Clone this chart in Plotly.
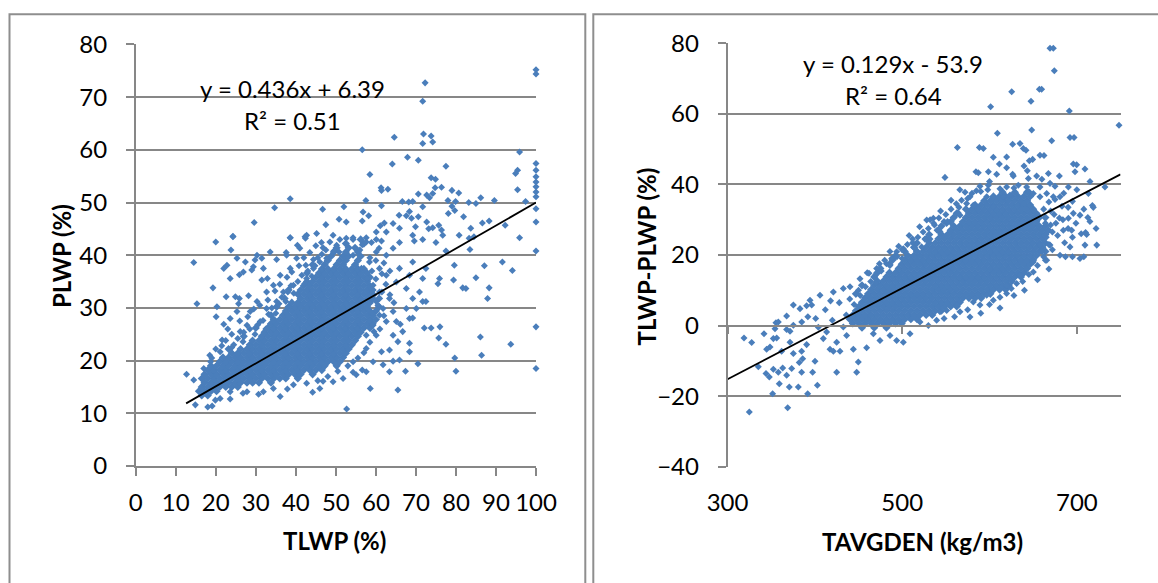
import plotly.graph_objects as go

# ---------------- left panel: PLWP vs TLWP ----------------
# dense part of the cloud, stored row by row as (PLWP, [TLWP values])
LEFT_CORE_ROWS = [
    (13.4, [16.5, 18.0]),
    (14.2, [15.8, 17.2, 18.8, 20.2]),
    (15.0, [16.5, 18.0, 19.5, 21.0, 22.5, 24.0, 25.5]),
    (15.8, [17.2, 18.8, 20.2, 21.8, 23.2, 24.8, 26.2, 27.8, 29.2, 30.8, 33.8]),
    (16.6, [16.5, 18.0, 19.5, 21.0, 22.5, 24.0, 25.5, 27.0, 28.5, 30.0, 31.5, 33.0, 34.5, 36.0, 37.5, 40.5]),
    (17.4, [17.2, 18.8, 20.2, 21.8, 23.2, 24.8, 26.2, 27.8, 29.2, 30.8, 32.2, 33.8, 35.2, 36.8, 38.2, 39.8, 41.2, 44.2]),
    (18.2, [18.0, 19.5, 21.0, 22.5, 24.0, 25.5, 27.0, 28.5, 30.0, 31.5, 33.0, 34.5, 36.0, 37.5, 39.0, 40.5, 42.0, 43.5, 45.0, 46.5]),
    (19.0, [18.8, 20.2, 21.8, 23.2, 24.8, 26.2, 27.8, 29.2, 30.8, 32.2, 33.8, 35.2, 36.8, 38.2, 39.8, 41.2, 42.8, 44.2, 45.8, 47.2, 50.2]),
    (19.8, [21.0, 22.5, 24.0, 25.5, 27.0, 28.5, 30.0, 31.5, 33.0, 34.5, 36.0, 37.5, 39.0, 40.5, 42.0, 43.5, 45.0, 46.5, 48.0, 49.5, 51.0]),
    (20.6, [21.8, 23.2, 24.8, 26.2, 27.8, 29.2, 30.8, 32.2, 33.8, 35.2, 36.8, 38.2, 39.8, 41.2, 42.8, 44.2, 45.8, 47.2, 48.8, 50.2, 51.8]),
    (21.4, [24.0, 25.5, 27.0, 28.5, 30.0, 31.5, 33.0, 34.5, 36.0, 37.5, 39.0, 40.5, 42.0, 43.5, 45.0, 46.5, 48.0, 49.5, 51.0, 52.5]),
    (22.2, [23.2, 26.2, 27.8, 29.2, 30.8, 32.2, 33.8, 35.2, 36.8, 38.2, 39.8, 41.2, 42.8, 44.2, 45.8, 47.2, 48.8, 50.2, 51.8, 53.2]),
    (23.0, [28.5, 30.0, 31.5, 33.0, 34.5, 36.0, 37.5, 39.0, 40.5, 42.0, 43.5, 45.0, 46.5, 48.0, 49.5, 51.0, 52.5, 54.0]),
    (23.8, [29.2, 30.8, 32.2, 33.8, 35.2, 36.8, 38.2, 39.8, 41.2, 42.8, 44.2, 45.8, 47.2, 48.8, 50.2, 51.8, 53.2, 54.8]),
    (24.6, [27.0, 31.5, 33.0, 34.5, 36.0, 37.5, 39.0, 40.5, 42.0, 43.5, 45.0, 46.5, 48.0, 49.5, 51.0, 52.5, 54.0, 55.5]),
    (25.4, [32.2, 33.8, 35.2, 36.8, 38.2, 39.8, 41.2, 42.8, 44.2, 45.8, 47.2, 48.8, 50.2, 51.8, 53.2, 54.8, 56.2]),
    (26.2, [30.0, 33.0, 34.5, 36.0, 37.5, 39.0, 40.5, 42.0, 43.5, 45.0, 46.5, 48.0, 49.5, 51.0, 52.5, 54.0, 55.5, 57.0, 58.5]),
    (27.0, [33.8, 35.2, 36.8, 38.2, 39.8, 41.2, 42.8, 44.2, 45.8, 47.2, 48.8, 50.2, 51.8, 53.2, 54.8, 56.2, 57.8, 59.2]),
    (27.8, [34.5, 36.0, 37.5, 39.0, 40.5, 42.0, 43.5, 45.0, 46.5, 48.0, 49.5, 51.0, 52.5, 54.0, 55.5, 57.0, 58.5, 60.0]),
    (28.6, [33.8, 36.8, 38.2, 39.8, 41.2, 42.8, 44.2, 45.8, 47.2, 48.8, 50.2, 51.8, 53.2, 54.8, 56.2, 57.8, 59.2]),
    (29.4, [37.5, 39.0, 40.5, 42.0, 43.5, 45.0, 46.5, 48.0, 49.5, 51.0, 52.5, 54.0, 55.5, 57.0, 58.5, 60.0]),
    (30.2, [35.2, 38.2, 39.8, 41.2, 42.8, 44.2, 45.8, 47.2, 48.8, 50.2, 51.8, 53.2, 54.8, 56.2, 57.8, 60.8]),
    (31.0, [39.0, 40.5, 42.0, 43.5, 45.0, 46.5, 48.0, 49.5, 51.0, 52.5, 54.0, 55.5, 57.0, 58.5]),
    (31.8, [37.2, 41.2, 42.8, 44.2, 45.8, 47.2, 48.8, 50.2, 51.8, 53.2, 54.8, 56.2, 57.8, 59.2, 60.8]),
    (32.6, [40.5, 42.0, 43.5, 45.0, 46.5, 48.0, 49.5, 51.0, 52.5, 54.0, 55.5, 57.0, 58.5]),
    (33.4, [38.2, 41.2, 42.8, 44.2, 45.8, 47.2, 48.8, 50.2, 51.8, 53.2, 54.8, 56.2, 57.8, 59.2]),
    (34.2, [42.0, 43.5, 45.0, 46.5, 48.0, 49.5, 51.0, 52.5, 54.0, 55.5, 57.0, 58.5]),
    (35.0, [42.8, 44.2, 45.8, 47.2, 48.8, 50.2, 51.8, 53.2, 54.8, 56.2, 57.8]),
    (35.8, [45.0, 46.5, 48.0, 49.5, 51.0, 52.5, 54.0, 55.5, 57.0, 58.5]),
    (36.6, [42.8, 45.8, 47.2, 48.8, 50.2, 51.8, 53.2, 54.8, 56.2, 57.8]),
    (37.4, [46.5, 48.0, 49.5, 51.0, 52.5, 54.0, 55.5, 57.0]),
    (38.2, [44.2, 47.2, 50.2, 51.8, 54.8]),
    (39.0, [48.0, 51.0, 52.5, 55.5]),
    (39.8, [48.8, 51.8, 53.2, 56.2]),
    (40.6, [49.5, 52.5, 55.5]),
    (41.4, [50.2, 53.2, 54.8]),
    (42.2, [52.5, 57.0]),
    (43.0, [56.2]),
]

# remaining individual observations (TLWP, PLWP)
LEFT_POINTS = [
    (100, 75.2), (100, 74.4), (72.3, 72.7), (71.7, 69.2), (71.9, 63.0), (73.8, 62.6), (71.7, 61.2),
    (74.2, 61.5), (64.6, 62.4), (56.6, 60.0), (67.9, 58.6), (64.1, 57.3), (70.6, 58.0), (77.5, 56.9),
    (95.9, 59.6), (95.4, 56.1), (94.9, 55.5), (58.5, 55.3), (73.8, 54.7), (74.9, 54.4),
    (100, 57.4), (100, 56.1), (100, 54.9), (100, 53.9), (100, 53.0), (100, 52.0), (100, 51.1),
    (100, 48.8), (100, 46.3), (100, 40.8), (100, 26.4), (100, 18.5),
    (95.4, 52.4), (61.3, 52.8), (61.4, 52.3), (63.0, 52.5), (74.8, 52.8), (76.4, 52.9), (70.6, 51.6),
    (72.7, 51.4), (73.4, 50.9), (74.2, 51.7), (79.0, 52.3), (80.7, 51.8),
    (38.6, 50.7), (34.7, 49.0), (29.6, 46.2), (24.3, 43.6), (46.7, 48.7), (52.0, 49.2), (57.5, 50.4),
    (61.4, 49.4), (66.6, 50.2), (68.2, 50.1), (69.2, 50.2), (78.0, 50.4), (79.9, 50.2), (83.2, 50.0),
    (85.0, 49.8), (86.2, 50.9), (89.6, 50.4), (97.4, 50.2),
    (50.8, 46.8), (52.6, 46.3), (47.5, 45.8), (45.2, 44.1), (42.3, 43.5), (38.6, 43.3), (56.8, 48.2),
    (58.2, 47.5), (56.6, 46.5), (61.1, 45.6), (62.1, 46.1), (64.3, 46.0), (65.8, 47.6), (67.6, 47.5),
    (68.4, 48.3), (68.9, 47.0), (69.9, 45.4), (70.6, 47.3), (71.7, 49.2), (72.7, 46.3), (73.2, 45.0),
    (74.2, 45.2), (76.4, 44.8), (78.1, 47.9), (79.0, 49.3), (79.7, 48.5), (81.9, 47.3), (83.7, 45.1),
    (86.6, 46.1), (88.3, 46.5), (92.3, 45.7), (84.5, 43.5),
    (54.3, 43.3), (57.6, 43.3), (60.1, 44.4), (62.6, 44.4), (65.9, 45.1), (69.2, 43.8), (75.7, 45.7),
    (76.7, 43.8), (80.8, 43.8), (83.3, 43.2), (42.7, 43.8), (49.3, 43.8),
    (14.5, 38.6), (15.3, 30.8), (12.7, 17.4), (14.5, 16.3), (19.3, 33.8), (20.0, 42.5), (24.3, 43.5),
    (23.8, 41.0), (22.0, 37.5), (22.8, 38.1), (23.6, 35.6), (20.1, 28.3), (20.3, 30.2), (22.6, 32.1),
    (24.9, 32.1), (25.9, 31.8), (25.7, 30.8), (22.0, 26.9), (21.6, 23.9), (24.0, 25.0),
    (27.4, 38.7), (29.0, 37.2), (25.9, 36.3), (28.2, 32.3), (31.5, 39.4), (31.5, 35.3), (32.9, 35.6),
    (29.8, 39.1), (29.4, 37.8), (35.2, 39.2), (37.6, 40.5), (38.6, 43.3), (40.4, 41.9), (42.4, 43.2),
    (42.5, 38.1), (44.4, 39.2), (46.4, 42.4), (46.8, 41.4), (47.7, 39.4),
    (50.8, 40.6), (54.3, 43.0), (56.6, 42.0), (58.9, 42.4), (60.1, 43.0), (60.8, 41.3), (61.4, 42.7),
    (65.9, 42.4), (69.6, 42.7), (71.7, 43.0), (75.0, 42.4), (77.5, 40.8), (79.6, 38.1), (83.5, 41.1),
    (85.0, 35.7), (87.1, 38.0), (88.3, 33.8), (87.9, 31.8), (91.6, 38.7), (94.1, 37.1), (95.9, 43.3),
    (75.9, 35.6), (75.5, 34.6), (79.4, 35.3), (81.7, 33.8), (82.5, 33.7),
    (72.1, 26.2), (73.8, 26.2), (76.0, 26.4), (75.7, 24.3), (77.5, 23.1), (86.1, 24.5), (93.7, 23.1),
    (86.4, 21.0), (79.7, 20.5), (80.0, 18.0), (70.5, 19.4), (67.4, 18.0), (63.4, 17.9), (65.5, 14.4),
    (58.6, 14.7), (64.3, 19.9), (65.9, 20.1), (68.4, 23.3), (68.4, 21.7), (61.4, 21.7), (61.8, 19.2),
    (63.4, 22.0), (65.5, 23.6), (64.3, 24.8), (66.1, 26.9), (69.2, 28.1), (72.5, 31.2),
    (52.7, 10.8), (56.6, 18.2), (54.3, 17.8), (46.8, 16.1), (44.2, 14.0), (37.9, 14.6), (36.1, 13.2),
    (30.7, 13.6), (26.8, 13.8), (23.6, 12.7), (19.1, 11.4), (14.9, 11.6), (19.9, 12.5), (18.0, 11.2),
    (25.3, 39.4), (26.9, 36.8), (30.3, 40.0), (31.9, 37.5), (33.6, 40.6), (36.1, 36.2), (37.7, 40.0),
    (38.6, 37.5), (40.2, 39.4), (41.0, 41.3), (34.4, 34.3), (32.7, 33.0), (30.3, 31.2), (28.6, 29.3),
    (31.1, 27.4), (27.8, 26.7), (26.1, 25.5), (24.5, 23.0), (23.6, 28.0), (25.3, 29.3), (32.7, 29.9),
    (35.2, 31.2), (36.9, 33.0), (39.4, 34.3), (42.7, 35.6), (44.4, 37.5), (46.0, 38.7), (21.1, 21.7),
    (18.7, 19.8), (17.0, 18.5),
    (54.3, 19.8), (57.6, 22.3), (60.1, 24.8), (62.6, 27.4), (64.3, 29.3), (61.8, 29.9), (63.4, 31.8),
    (60.9, 33.0), (62.6, 36.2), (65.1, 34.9), (67.6, 33.7), (69.2, 31.8), (70.9, 33.0), (65.9, 37.5),
    (69.2, 38.7), (68.4, 36.2), (71.7, 35.6), (72.5, 37.5), (70.1, 29.9), (71.7, 31.2), (67.6, 29.9),
    (65.1, 27.4), (66.7, 25.5), (68.4, 28.0), (59.3, 19.8), (57.6, 17.9), (55.1, 17.3), (51.8, 16.6),
    (49.3, 16.0), (46.0, 14.7), (42.7, 15.7), (39.4, 15.4), (34.4, 14.7), (31.9, 14.1), (27.8, 14.1),
    (23.6, 14.1), (21.1, 12.8), (17.8, 14.1), (57.6, 24.8), (59.3, 26.7), (60.9, 28.6), (60.1, 31.2),
    (59.3, 34.3), (60.9, 37.5), (58.4, 38.7), (60.1, 40.6), (62.6, 40.0), (64.3, 41.3), (57.6, 42.5),
    (52.6, 43.2), (50.2, 41.9), (54.3, 40.0), (56.4, 37.5), (57.6, 35.6), (56.0, 41.0),
    (59.0, 29.0), (60.5, 30.5), (59.5, 32.5), (61.5, 33.0), (60.0, 35.5), (61.5, 36.5), (59.0, 37.0),
    (58.5, 39.5), (60.0, 39.0), (62.0, 38.5), (63.5, 37.0), (62.5, 34.5), (63.5, 32.5), (64.5, 31.0),
    (62.0, 28.5), (61.0, 26.0), (59.5, 25.5), (58.5, 23.5), (57.0, 21.5), (55.5, 20.5), (53.0, 19.0),
    (50.5, 18.0), (48.0, 17.0), (45.5, 16.2),
    (18.5, 21.0), (20.0, 22.2), (19.0, 20.5), (21.5, 22.8), (22.5, 23.8), (24.0, 22.5), (25.5, 24.2),
    (26.8, 23.6), (27.0, 25.4), (28.5, 26.0), (29.8, 25.0), (30.5, 26.8), (31.8, 27.6), (32.5, 26.0),
    (33.2, 28.8), (34.0, 30.0), (35.0, 29.0), (35.8, 30.8), (36.5, 32.0), (37.5, 31.2), (38.0, 33.0),
    (38.8, 34.2), (39.5, 32.8), (40.5, 35.0), (41.5, 36.2), (42.2, 34.6), (43.0, 37.0), (44.0, 36.0),
    (44.8, 38.0), (45.5, 39.5), (46.5, 40.2), (47.5, 41.0), (48.5, 42.5), (49.5, 40.8), (51.0, 43.0),
    (23.0, 26.0), (26.0, 27.5), (28.0, 28.3), (29.5, 29.8), (31.0, 30.5), (33.0, 31.5), (34.8, 33.2),
    (36.0, 34.5), (37.8, 35.8), (39.0, 36.8), (40.8, 38.0), (42.0, 39.5), (43.5, 40.5), (45.0, 41.8),
]

LEFT_SLOPE, LEFT_INTERCEPT, LEFT_R2 = 0.436, 6.39, 0.51
LEFT_FIT_RANGE = [12.6, 100]

# ---------------- right panel: TLWP-PLWP vs TAVGDEN ----------------
RIGHT_CORE_ROWS = [
    (-0.6, [454, 468, 482]),
    (0.6, [443.5, 450.5, 457.5, 464.5, 471.5, 478.5, 485.5, 492.5, 499.5]),
    (1.8, [440, 447, 454, 461, 468, 475, 482, 489, 496, 503, 510, 517]),
    (3.0, [443.5, 450.5, 457.5, 464.5, 471.5, 478.5, 485.5, 492.5, 499.5, 506.5, 513.5, 520.5, 527.5, 534.5]),
    (4.2, [447, 454, 461, 468, 475, 482, 489, 496, 503, 510, 517, 524, 531, 538, 545]),
    (5.4, [450.5, 457.5, 464.5, 471.5, 478.5, 485.5, 492.5, 499.5, 506.5, 513.5, 520.5, 527.5, 534.5, 541.5,
           548.5, 555.5, 562.5]),
    (6.6, [454, 461, 468, 475, 482, 489, 496, 503, 510, 517, 524, 531, 538, 545, 552, 559, 566]),
    (7.8, [457.5, 464.5, 471.5, 478.5, 485.5, 492.5, 499.5, 506.5, 513.5, 520.5, 527.5, 534.5, 541.5, 548.5,
           555.5, 562.5, 569.5, 576.5, 583.5, 590.5]),
    (9.0, [447, 461, 468, 475, 482, 489, 496, 503, 510, 517, 524, 531, 538, 545, 552, 559, 566, 573, 580, 587,
           594, 601]),
    (10.2, [464.5, 471.5, 478.5, 485.5, 492.5, 499.5, 506.5, 513.5, 520.5, 527.5, 534.5, 541.5, 548.5, 555.5,
            562.5, 569.5, 576.5, 583.5, 590.5, 597.5, 604.5, 611.5, 618.5]),
    (11.4, [454, 468, 475, 482, 489, 496, 503, 510, 517, 524, 531, 538, 545, 552, 559, 566, 573, 580, 587, 594,
            601, 608, 615, 622]),
    (12.6, [471.5, 478.5, 485.5, 492.5, 499.5, 506.5, 513.5, 520.5, 527.5, 534.5, 541.5, 548.5, 555.5, 562.5,
            569.5, 576.5, 583.5, 590.5, 597.5, 604.5, 611.5, 618.5, 625.5]),
    (13.8, [468, 482, 489, 496, 503, 510, 517, 524, 531, 538, 545, 552, 559, 566, 573, 580, 587, 594, 601, 608,
            615, 622, 629, 636]),
    (15.0, [471.5, 485.5, 492.5, 499.5, 506.5, 513.5, 520.5, 527.5, 534.5, 541.5, 548.5, 555.5, 562.5, 569.5,
            576.5, 583.5, 590.5, 597.5, 604.5, 611.5, 618.5, 625.5, 632.5, 639.5]),
    (16.2, [475, 496, 503, 510, 517, 524, 531, 538, 545, 552, 559, 566, 573, 580, 587, 594, 601, 608, 615, 622,
            629, 636, 643]),
    (17.4, [485.5, 499.5, 506.5, 513.5, 520.5, 527.5, 534.5, 541.5, 548.5, 555.5, 562.5, 569.5, 576.5, 583.5,
            590.5, 597.5, 604.5, 611.5, 618.5, 625.5, 632.5, 639.5, 646.5]),
    (18.6, [489, 503, 510, 517, 524, 531, 538, 545, 552, 559, 566, 573, 580, 587, 594, 601, 608, 615, 622, 629,
            636, 643, 650]),
    (19.8, [492.5, 506.5, 513.5, 520.5, 527.5, 534.5, 541.5, 548.5, 555.5, 562.5, 569.5, 576.5, 583.5, 590.5,
            597.5, 604.5, 611.5, 618.5, 625.5, 632.5, 639.5, 646.5, 653.5]),
    (21.0, [503, 517, 524, 531, 538, 545, 552, 559, 566, 573, 580, 587, 594, 601, 608, 615, 622, 629, 636, 643,
            650, 657, 664]),
    (22.2, [513.5, 527.5, 534.5, 541.5, 548.5, 555.5, 562.5, 569.5, 576.5, 583.5, 590.5, 597.5, 604.5, 611.5,
            618.5, 625.5, 632.5, 639.5, 646.5, 653.5, 660.5]),
    (23.4, [517, 531, 538, 545, 552, 559, 566, 573, 580, 587, 594, 601, 608, 615, 622, 629, 636, 643, 650, 657,
            664]),
    (24.6, [527.5, 541.5, 548.5, 555.5, 562.5, 569.5, 576.5, 583.5, 590.5, 597.5, 604.5, 611.5, 618.5, 625.5,
            632.5, 639.5, 646.5, 653.5, 660.5]),
    (25.8, [531, 545, 552, 559, 566, 573, 580, 587, 594, 601, 608, 615, 622, 629, 636, 643, 650, 657, 664]),
    (27.0, [541.5, 555.5, 562.5, 569.5, 576.5, 583.5, 590.5, 597.5, 604.5, 611.5, 618.5, 625.5, 632.5, 639.5,
            646.5, 653.5, 660.5, 667.5]),
    (28.2, [545, 559, 566, 573, 580, 587, 594, 601, 608, 615, 622, 629, 636, 643, 650, 657, 664]),
    (29.4, [555.5, 569.5, 576.5, 583.5, 590.5, 597.5, 604.5, 611.5, 618.5, 625.5, 632.5, 639.5, 646.5, 653.5]),
    (30.6, [559, 573, 580, 587, 594, 601, 608, 615, 622, 629, 636, 643, 650, 657, 664]),
    (31.8, [562.5, 576.5, 583.5, 590.5, 597.5, 604.5, 611.5, 618.5, 625.5, 632.5, 639.5, 646.5, 653.5]),
    (33.0, [573, 580, 587, 594, 601, 608, 615, 622, 629, 636, 643, 650]),
    (34.2, [583.5, 590.5, 597.5, 604.5, 611.5, 618.5, 625.5, 632.5, 639.5, 646.5]),
    (35.4, [594, 601, 608, 615, 622, 629, 636, 643]),
    (36.6, [604.5, 611.5, 618.5, 625.5, 632.5, 639.5, 646.5]),
    (37.8, [615, 629, 643]),
]

# remaining individual observations (TAVGDEN, TLWP-PLWP)
RIGHT_POINTS = [
    (669.3, 78.6), (673.1, 78.6), (674.2, 72.2), (625.4, 66.3), (657.1, 67.0), (659.7, 67.0), (647.5, 63.6),
    (601.3, 62.0), (691.4, 60.8), (748.3, 56.8), (609.0, 54.5), (648.3, 55.4), (671.2, 52.4), (692.2, 53.3),
    (696.8, 53.3), (563.2, 50.5), (588.4, 50.5), (593.0, 50.2), (626.5, 51.4), (634.9, 51.6), (638.7, 50.2),
    (641.8, 49.7), (604.4, 47.7), (619.6, 47.8), (649.4, 47.1), (657.8, 48.3), (662.4, 48.2), (611.3, 45.8),
    (619.6, 44.7), (639.5, 45.2), (645.6, 46.7), (696.0, 45.8), (699.8, 45.6), (709.3, 44.4), (549.0, 42.0),
    (584.5, 43.6), (587.2, 43.3), (598.7, 43.6), (608.2, 42.9), (626.5, 42.9), (627.3, 42.4), (643.3, 43.9),
    (644.5, 41.7), (654.0, 42.4), (667.4, 43.1), (680.0, 42.4), (697.9, 43.6), (715.1, 40.8), (732.2, 39.3),
    (589.1, 39.5), (598.7, 39.8), (619.6, 39.3), (633.0, 39.8), (642.5, 39.3), (657.8, 39.3), (669.3, 40.3),
    (690.3, 39.3), (718.9, 33.5), (696.0, 31.8), (703.6, 31.3), (690.3, 30.4), (680.7, 36.5), (673.1, 36.5),
    (713.2, 37.4), (577.7, 36.5), (573.8, 34.6), (581.5, 34.1), (596.8, 36.5), (604.4, 33.7), (615.8, 36.5),
    (623.5, 37.0), (638.7, 34.6), (650.2, 37.4), (657.8, 36.5), (665.5, 37.4), (675.0, 35.7), (528.1, 29.9),
    (535.7, 30.4), (550.9, 28.9), (566.2, 31.3),
    (565.0, 33.5), (572.0, 37.8), (585.0, 38.2), (600.0, 40.8), (612.0, 38.8), (628.0, 39.0), (645.0, 38.0),
    (660.0, 41.5), (675.0, 39.5), (685.0, 37.5), (695.0, 35.2), (700.0, 38.5), (708.0, 33.0), (715.0, 29.5),
    (722.0, 27.5), (705.0, 26.0), (690.0, 33.5), (680.0, 30.5), (670.0, 32.5), (664.0, 29.0),
    (665.0, 25.0), (670.0, 28.5), (672.0, 21.5), (678.0, 25.5), (684.0, 30.0), (686.0, 23.5), (690.0, 27.5),
    (695.0, 25.0), (662.0, 33.0), (668.0, 35.0), (655.0, 31.5), (660.0, 21.0), (664.0, 18.5), (674.0, 31.5),
    (683.0, 33.8), (699.0, 29.0), (710.0, 26.4), (722.8, 22.8), (708.0, 19.5), (717.8, 34.0), (712.6, 30.6),
    (687.0, 19.5), (695.0, 19.5),
    (325.0, -24.5), (368.9, -23.3), (318.9, -3.5), (327.7, -4.8), (341.8, -2.3), (355.5, 0.8), (358.2, 1.0),
    (352.5, -3.7), (356.3, -3.5), (348.7, -6.1), (344.8, -6.7), (362.0, -7.3), (335.3, -11.7), (344.1, -13.6),
    (347.9, -14.6), (352.5, -12.4), (358.2, -13.2), (363.2, -12.0), (351.7, -19.3), (359.3, -16.5),
    (370.8, -17.4), (367.7, -14.1), (373.5, -12.2), (375.4, -7.9), (384.9, -7.3), (386.1, -9.4),
    (382.2, -10.5), (384.9, -13.2), (381.1, -17.4), (391.8, -19.3), (402.9, -16.9), (400.2, -10.1),
    (397.5, -13.2), (390.6, -5.4), (371.6, -1.6), (367.7, -1.1), (375.4, 0.1), (354.4, -0.9), (371.6, -4.7),
    (367.7, 2.7), (375.4, 5.8), (383.0, 4.8), (390.6, 5.6), (396.4, 5.8), (409.7, -3.7), (417.4, -6.7),
    (421.2, -7.3), (425.0, -4.7), (428.8, -7.3), (425.0, -13.2), (444.1, -6.7), (447.9, -13.2), (449.8, -10.3),
    (459.3, -6.3), (474.6, -4.2), (467.0, -2.3), (486.1, -2.8), (493.7, -4.2), (501.3, -4.7), (509.0, -2.3),
    (436.4, -2.8), (432.6, -0.4), (413.5, -1.8),
    (405.9, 8.6), (394.5, 7.2), (421.2, 9.5), (432.6, 10.5), (440.3, 11.0), (451.7, 13.3), (470.8, 16.2),
    (493.7, 20.9), (501.3, 21.8), (522.3, 22.3), (531.9, 24.5), (543.3, 26.6), (480.0, 18.5), (460.0, 15.0),
    (512.0, 23.5), (537.0, 28.5), (548.0, 29.5),
    (401.0, 2.0), (412.0, 4.5), (420.0, 1.5), (428.0, 6.5), (436.0, 3.0), (404.0, -0.5), (385.0, 1.0),
    (392.0, 2.5), (418.0, 7.0), (440.0, 7.5),
    (520.4, 1.0), (539.5, 1.5), (551.0, 4.3), (566.2, 3.9), (577.7, 2.4), (589.1, 5.8), (604.4, 7.2),
    (619.6, 9.1), (631.1, 11.9), (635.0, 14.3), (650.2, 15.2), (650.2, 18.0), (665.5, 18.5), (680.7, 19.9),
    (692.2, 22.3), (703.6, 19.0), (709.3, 22.8), (711.2, 25.8), (684.5, 27.0), (694.1, 27.0), (669.3, 22.8),
    (657.8, 22.8), (642.6, 16.2), (619.6, 11.4), (596.8, 8.6), (581.5, 6.7), (562.4, 5.8), (543.3, 3.9),
    (445.0, 6.0), (452.0, 8.5), (458.0, 11.0), (464.0, 12.5), (470.0, 14.5), (476.0, 15.5), (482.0, 17.5),
    (488.0, 19.0), (494.0, 19.5), (500.0, 21.5), (506.0, 23.0), (512.0, 24.5), (518.0, 25.0), (524.0, 26.5),
    (530.0, 27.5), (536.0, 29.0), (542.0, 30.5), (550.0, 31.5), (556.0, 33.0), (562.0, 34.5), (568.0, 35.5),
    (575.0, 36.0), (580.0, 37.5), (590.0, 38.0), (598.0, 38.5), (450.0, 10.0), (462.0, 14.8), (474.0, 17.5),
    (486.0, 21.0), (496.0, 22.5), (508.0, 25.5), (520.0, 28.0), (532.0, 30.0), (544.0, 32.5), (556.0, 35.5),
    (566.0, 38.5), (486.0, 17.0), (470.0, 12.0), (500.0, 19.0), (514.0, 22.0), (526.0, 24.5), (540.0, 27.0),
    (552.0, 29.5), (564.0, 32.0),
    (560.0, 2.5), (575.0, 4.5), (590.0, 3.5), (600.0, 6.0), (612.0, 8.0), (625.0, 10.5), (638.0, 12.5),
    (645.0, 14.5), (655.0, 17.0), (662.0, 19.5), (668.0, 23.0), (672.0, 26.5), (676.0, 29.0), (530.0, 0.0),
    (548.0, 2.0), (612.0, 5.0), (628.0, 8.5), (640.0, 10.0), (655.0, 13.0), (668.0, 16.0),
]

RIGHT_SLOPE, RIGHT_INTERCEPT, RIGHT_R2 = 0.129, -53.9, 0.64
RIGHT_FIT_RANGE = [300, 750]


def flatten(rows):
    xs, ys = [], []
    for yv, xrow in rows:
        xs.extend(xrow)
        ys.extend([yv] * len(xrow))
    return xs, ys


def unzip(points):
    return [p[0] for p in points], [p[1] for p in points]


lcx, lcy = flatten(LEFT_CORE_ROWS)
lpx, lpy = unzip(LEFT_POINTS)
rcx, rcy = flatten(RIGHT_CORE_ROWS)
rpx, rpy = unzip(RIGHT_POINTS)

BLUE = "#4a7ebb"
GRID = "#878787"
FONT = "Lato"
W, H = 1158, 583

# the dense middle of each cloud overlaps so closely that it reads as a solid patch
core_marker = dict(symbol="diamond", size=6.3, color=BLUE, line=dict(width=0))
marker = dict(symbol="diamond", size=5.4, color=BLUE, line=dict(width=0))

fig = go.Figure()
common = dict(mode="markers", cliponaxis=False, showlegend=False, hoverinfo="skip")
fig.add_trace(go.Scatter(x=lcx, y=lcy, marker=core_marker, xaxis="x", yaxis="y", **common))
fig.add_trace(go.Scatter(x=lpx, y=lpy, marker=marker, xaxis="x", yaxis="y", **common))
fig.add_trace(go.Scatter(x=LEFT_FIT_RANGE,
                         y=[LEFT_SLOPE * v + LEFT_INTERCEPT for v in LEFT_FIT_RANGE],
                         mode="lines", line=dict(color="black", width=1.8),
                         xaxis="x", yaxis="y", showlegend=False, hoverinfo="skip"))
fig.add_trace(go.Scatter(x=rcx, y=rcy, marker=core_marker, xaxis="x2", yaxis="y2", **common))
fig.add_trace(go.Scatter(x=rpx, y=rpy, marker=marker, xaxis="x2", yaxis="y2", **common))
fig.add_trace(go.Scatter(x=RIGHT_FIT_RANGE,
                         y=[RIGHT_SLOPE * v + RIGHT_INTERCEPT for v in RIGHT_FIT_RANGE],
                         mode="lines", line=dict(color="black", width=1.8),
                         xaxis="x3", yaxis="y2", showlegend=False, hoverinfo="skip"))


def px_x(p):
    return p / W


def px_y(p):
    return 1 - p / H


tick_font = dict(family=FONT, size=24, color="black")

left_dx = [px_x(135.7), px_x(536.0)]
left_dy = [px_y(466.0), px_y(44.4)]
right_dx = [px_x(727.5), px_x(1120.5)]
right_dy = [px_y(466.7), px_y(43.3)]
zero_pos = right_dy[0] + (right_dy[1] - right_dy[0]) * (40 / 120)

axis_common = dict(showgrid=False, zeroline=False, linecolor=GRID, linewidth=1.5, automargin=False,
                   tickcolor=GRID, tickwidth=1.5, tickfont=tick_font, fixedrange=True)

fig.update_layout(
    width=W, height=H, autosize=False,
    margin=dict(l=0, r=0, t=0, b=0, autoexpand=False),
    paper_bgcolor="white", plot_bgcolor="white",
    font=dict(family=FONT, color="black"),
    xaxis=dict(domain=left_dx, range=[0, 100], tick0=0, dtick=10, anchor="y",
               ticks="outside", ticklen=8, showline=True, ticklabelstandoff=6, **axis_common),
    yaxis=dict(domain=left_dy, range=[0, 80], tick0=0, dtick=10, anchor="x",
               ticks="outside", ticklen=8, showline=True, ticklabelstandoff=14,
               **{**axis_common, "showgrid": True}, gridcolor=GRID, gridwidth=1.5),
    xaxis2=dict(domain=right_dx, range=[300, 750], tick0=300, dtick=200, anchor="y2",
                ticks="", showline=False, ticklabelstandoff=19, **axis_common),
    yaxis2=dict(domain=right_dy, range=[-40, 80], tick0=-40, dtick=20, anchor="x2",
                ticks="outside", ticklen=8, showline=True, ticklabelstandoff=14,
                **{**axis_common, "showgrid": True}, gridcolor=GRID, gridwidth=1.5),
    xaxis3=dict(overlaying="x2", anchor="free", position=zero_pos, side="bottom",
                range=[300, 750], tick0=300, dtick=200, ticks="outside", ticklen=8,
                showline=True, showticklabels=False, **axis_common),
)

ann = [
    dict(text="y = 0.436x + 6.39", x=px_x(292.7), y=px_y(88.3), bold=False),
    dict(text="R² = " + f"{LEFT_R2:.2f}", x=px_x(292.7), y=px_y(120.0), bold=False),
    dict(text="y = 0.129x - 53.9", x=px_x(892.5), y=px_y(63.3), bold=False),
    dict(text="R² = " + f"{RIGHT_R2:.2f}", x=px_x(893.0), y=px_y(95.0), bold=False),
    dict(text="TLWP (%)", x=px_x(334.5), y=px_y(540.0), bold=True),
    dict(text="TAVGDEN (kg/m3)", x=px_x(922.8), y=px_y(541.0), bold=True),
    dict(text="PLWP (%)", x=px_x(61.0), y=px_y(256.0), bold=True, angle=-90),
    dict(text="TLWP-PLWP (%)", x=px_x(646.0), y=px_y(256.5), bold=True, angle=-90),
]
for a in ann:
    fig.add_annotation(
        text=f"<b>{a['text']}</b>" if a["bold"] else a["text"],
        x=a["x"], y=a["y"], xref="paper", yref="paper",
        xanchor="center", yanchor="middle", showarrow=False,
        textangle=a.get("angle", 0),
        font=dict(family=FONT, size=24, color="black"),
    )

# chart-area borders of the two charts (open at the bottom)
frame = dict(color="#8e8e8e", width=2)
fig.add_shape(type="path", xref="paper", yref="paper", line=frame,
              path=f"M {px_x(9.5)},{px_y(600)} L {px_x(9.5)},{px_y(14.3)} "
                   f"L {px_x(585.3)},{px_y(14.3)} L {px_x(585.3)},{px_y(600)}")
fig.add_shape(type="path", xref="paper", yref="paper", line=frame,
              path=f"M {px_x(593.3)},{px_y(600)} L {px_x(593.3)},{px_y(14.3)} "
                   f"L {px_x(1170)},{px_y(14.3)}")

fig.write_html("out.html", config={"displayModeBar": False})
